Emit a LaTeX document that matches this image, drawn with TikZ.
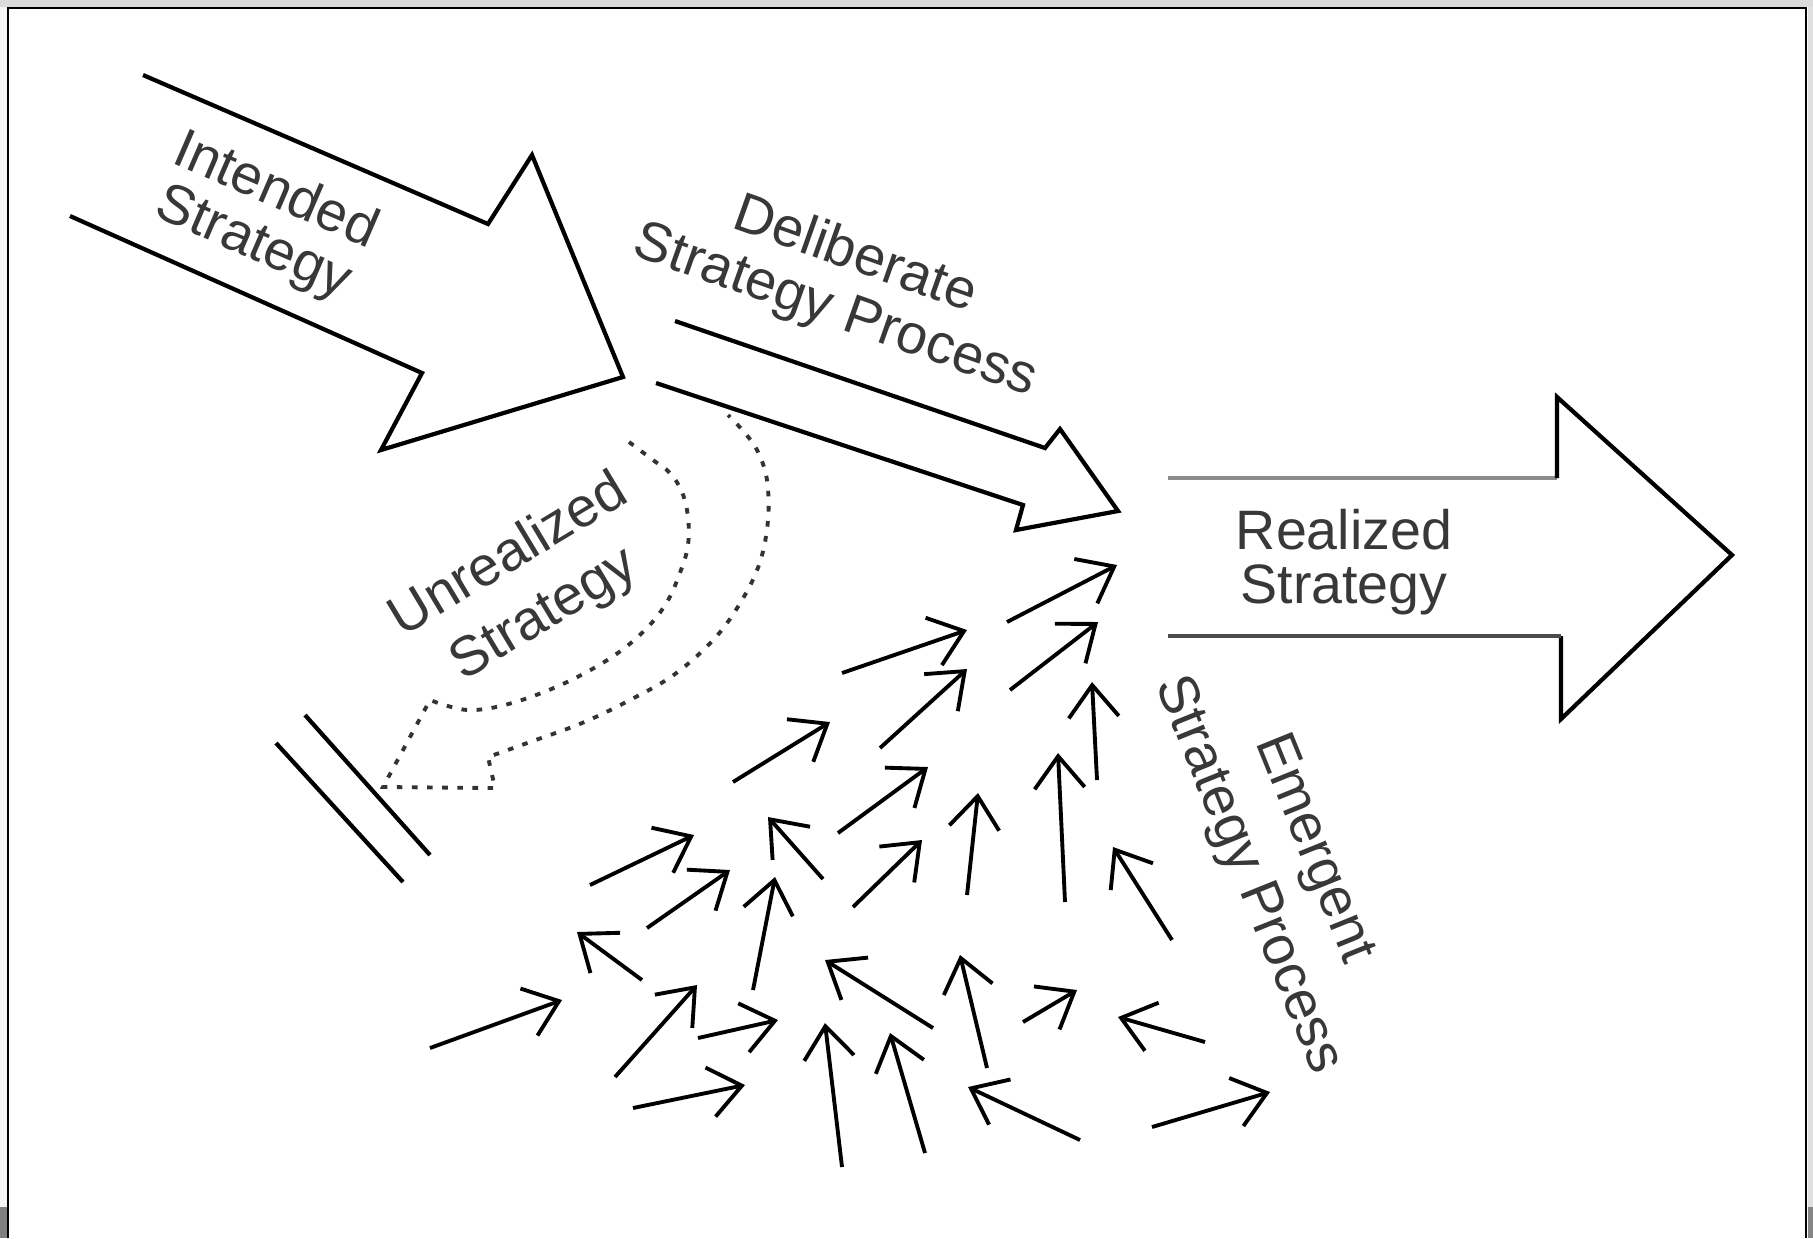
\documentclass[tikz,border=0pt]{standalone}
\usepackage{fontspec}
\setmainfont{Liberation Sans}
\usetikzlibrary{arrows.meta}

\begin{document}
\begin{tikzpicture}[x=0.01cm, y=-0.01cm,
    outline/.style={line width=1.2pt, line join=miter},
    dotline/.style={line width=1.1pt, black!80, dash pattern=on 1.6pt off 2.7pt},
    smallarrow/.style={line width=1.1pt, -{Straight Barb[length=3.2mm, width=5mm, line width=1.1pt]}},
    lbl/.style={align=center, inner sep=0pt, text=black!78, font=\fontsize{15.8}{#1}\selectfont}]
    \useasboundingbox (0,0) rectangle (1813,1238);

    % screenshot frame
    \fill[black!14] (0,0) rectangle (1813,7);
    \fill[black!4] (0,7) rectangle (7,1238);
    \fill[black!12] (1808,7) rectangle (1813,1238);
    \fill[black!50] (0,1207) rectangle (7,1238);
    \fill[black!48] (1808,1207) rectangle (1813,1238);
    \draw[line width=0.6pt] (8,1238) -- (8,8) -- (1806,8) -- (1806,1238);

    % intended strategy
    \draw[outline] (143,75) -- (488,224) -- (532,155) -- (623,377) -- (381,450) -- (422,373) -- (70,216);
    \node[lbl=16pt, rotate=-23.4] (intended) at (264,218) {Intended\\Strategy};

    % deliberate strategy
    \draw[outline] (675,321) -- (1045,448) -- (1060,429) -- (1118,511) -- (1016,530) -- (1023,505) -- (656,383);
    \node[lbl=16.8pt, rotate=-19.5] (deliberate) at (845,284) {Deliberate\\Strategy Process};

    % unrealized strategy
    \draw[dotline] plot[smooth, tension=0.6] coordinates {(629,442) (653,460) (670,473) (682,492) (688,517) (688,545) (681,570) (667,602) (645,630) (612,657) (565,683) (512,703) (468,710) (430,700)}
        -- (383,787) -- (495,788) -- (488,757)
        -- plot[smooth, tension=0.6] coordinates {(488,757) (530,742) (582,723) (630,700) (675,674) (715,638) (742,600) (760,562) (768,520) (767,480) (758,452) (745,433) (728,415)};
    \node[lbl=19.5pt, rotate=31] (unrealized) at (527,586) {Unrealized\\Strategy};
    \draw[outline] (276,743) -- (403,882);
    \draw[outline] (305,715) -- (430,855);

    % realized strategy
    \draw[outline, black!45] (1168,478) -- (1557,478);
    \draw[outline] (1557,478) -- (1557,397) -- (1732,555) -- (1561,719) -- (1561,636);
    \draw[outline, black!70] (1561,636) -- (1168,636);
    \node[lbl=15.3pt] (realized) at (1344,562) {Realized\\Strategy};

    % emergent strategy
    \foreach \i/\tx/\ty/\hx/\hy in {1/1007/622/1117/565, 2/1010/690/1098/622, 3/842/673/967/630,
        4/880/748/967/669, 5/733/782/830/722, 6/838/833/928/767, 7/1097/780/1092/682,
        8/1065/902/1058/753, 9/967/895/978/793, 10/853/907/922/840, 11/823/879/768/817,
        12/590/885/694/835, 13/647/928/730/870, 14/753/990/775/877, 15/642/980/577/932,
        16/1172/940/1113/847, 17/430/1048/562/1000, 18/615/1077/697/985, 19/698/1038/778/1020,
        20/633/1108/745/1085, 21/842/1167/825/1023, 22/925/1153/890/1033, 23/933/1028/825/960,
        24/987/1068/960/955, 25/1023/1022/1077/990, 26/1080/1140/968/1087,
        27/1205/1042/1118/1017, 28/1152/1127/1270/1092}{
        \coordinate (tail\i) at (\tx,\ty);
        \coordinate (tip\i) at (\hx,\hy);
        \draw[smallarrow] (tail\i) -- (tip\i);
    }
    \node[lbl=20pt, rotate=-68] (emergent) at (1280,862) {Emergent\\Strategy Process};
\end{tikzpicture}
\end{document}
